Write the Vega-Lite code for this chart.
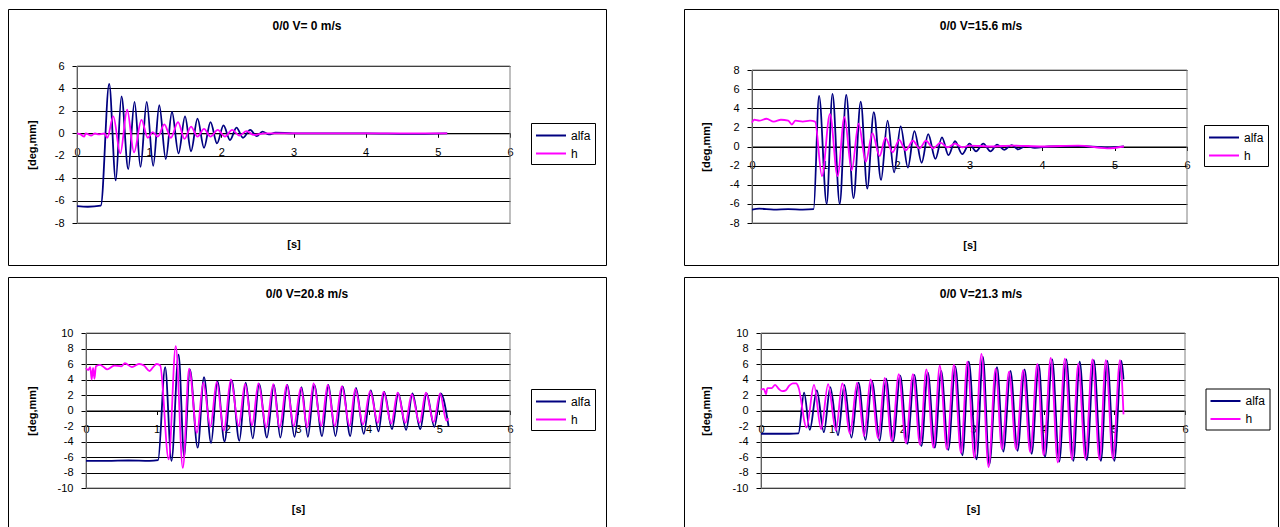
{
"$schema": "https://vega.github.io/schema/vega-lite/v6.json",
"padding": {"left": 7, "top": 8, "right": 0, "bottom": 0},
"bounds": "flush",
"columns": 2,
"spacing": {"row": 12, "column": 78},
"resolve": {"scale": {"color": "independent"}, "legend": {"color": "independent"}},
"concat": [
{"width": 598, "height": 256, "title": "0/0 V= 0 m/s",
 "layer": [
  {"data": {"values": [{}]}, "mark": {"type": "rect", "fill": "transparent", "stroke": "#808080", "strokeWidth": 1},
   "encoding": {"x": {"datum": 0, "type": "quantitative"}, "x2": {"datum": 6}, "y": {"datum": -8, "type": "quantitative"}, "y2": {"datum": 6}}},
  {"data": {"values": [
{"s":"alfa","t":0,"v":-6.5},{"s":"alfa","t":0.15,"v":-6.55},{"s":"alfa","t":0.33,"v":-6.45},{"s":"alfa","t":0.446,"v":4.4},{"s":"alfa","t":0.537,"v":-4.2},{"s":"alfa","t":0.616,"v":3.3},{"s":"alfa","t":0.71,"v":-3.2},{"s":"alfa","t":0.797,"v":2.8},{"s":"alfa","t":0.88,"v":-3.0},{"s":"alfa","t":0.966,"v":2.8},{"s":"alfa","t":1.056,"v":-2.9},{"s":"alfa","t":1.14,"v":2.5},{"s":"alfa","t":1.23,"v":-2.3},{"s":"alfa","t":1.316,"v":1.9},{"s":"alfa","t":1.407,"v":-1.8},{"s":"alfa","t":1.497,"v":1.5},{"s":"alfa","t":1.58,"v":-1.6},{"s":"alfa","t":1.67,"v":1.3},{"s":"alfa","t":1.76,"v":-1.3},{"s":"alfa","t":1.85,"v":1.0},{"s":"alfa","t":1.94,"v":-0.9},{"s":"alfa","t":2.03,"v":0.7},{"s":"alfa","t":2.12,"v":-0.6},{"s":"alfa","t":2.21,"v":0.5},{"s":"alfa","t":2.3,"v":-0.4},{"s":"alfa","t":2.4,"v":0.3},{"s":"alfa","t":2.49,"v":-0.25},{"s":"alfa","t":2.57,"v":0.15},{"s":"alfa","t":2.66,"v":-0.1},{"s":"alfa","t":2.75,"v":0.05},{"s":"alfa","t":3.0,"v":0},{"s":"alfa","t":4.0,"v":0},{"s":"alfa","t":4.6,"v":-0.05},{"s":"alfa","t":5.13,"v":0},
{"s":"h","t":0,"v":0},{"s":"h","t":0.05,"v":-0.1},{"s":"h","t":0.1,"v":-0.3},{"s":"h","t":0.12,"v":0},{"s":"h","t":0.2,"v":-0.2},{"s":"h","t":0.25,"v":0},{"s":"h","t":0.3,"v":-0.1},{"s":"h","t":0.38,"v":0},{"s":"h","t":0.42,"v":-0.4},{"s":"h","t":0.503,"v":1.5},{"s":"h","t":0.6,"v":-1.8},{"s":"h","t":0.695,"v":2.1},{"s":"h","t":0.79,"v":-1.7},{"s":"h","t":0.893,"v":1.2},{"s":"h","t":0.98,"v":-0.4},{"s":"h","t":1.05,"v":0.1},{"s":"h","t":1.12,"v":-0.3},{"s":"h","t":1.21,"v":0.8},{"s":"h","t":1.3,"v":-0.4},{"s":"h","t":1.4,"v":1.0},{"s":"h","t":1.49,"v":-0.5},{"s":"h","t":1.58,"v":0.6},{"s":"h","t":1.67,"v":-0.3},{"s":"h","t":1.76,"v":0.4},{"s":"h","t":1.85,"v":-0.3},{"s":"h","t":1.95,"v":0.3},{"s":"h","t":2.05,"v":-0.3},{"s":"h","t":2.15,"v":0.3},{"s":"h","t":2.25,"v":-0.2},{"s":"h","t":2.35,"v":0.2},{"s":"h","t":2.45,"v":-0.15},{"s":"h","t":2.6,"v":0},{"s":"h","t":3.0,"v":0},{"s":"h","t":4.0,"v":0},{"s":"h","t":5.13,"v":0}
  ]},
   "mark": {"type": "line", "interpolate": "monotone", "strokeWidth": 1.8},
   "encoding": {
    "x": {"field": "t", "type": "quantitative", "scale": {"domain": [0, 6], "range": [69, 502], "nice": false, "zero": false},
          "axis": {"title": "[s]", "values": [0,1,2,3,4,5,6], "offset": -131.71, "titleY": 111.7}},
    "y": {"field": "v", "type": "quantitative", "scale": {"domain": [-8, 6], "range": [214, 57], "nice": false, "zero": false},
          "axis": {"title": "[deg,mm]", "values": [-8,-6,-4,-2,0,2,4,6], "offset": -69, "titleX": -45, "titleY": 135.5}},
    "color": {"field": "s", "type": "nominal", "scale": {"domain": ["alfa", "h"], "range": ["#000080", "#FF00FF"]},
          "legend": {"title": null, "legendX": 523, "legendY": 114}}
   }}
 ]},
{"width": 594, "height": 256, "title": "0/0 V=15.6 m/s",
 "layer": [
  {"data": {"values": [{}]}, "mark": {"type": "rect", "fill": "transparent", "stroke": "#808080", "strokeWidth": 1},
   "encoding": {"x": {"datum": 0, "type": "quantitative"}, "x2": {"datum": 6}, "y": {"datum": -8, "type": "quantitative"}, "y2": {"datum": 8}}},
  {"data": {"values": [
{"s":"alfa","t":0,"v":-6.6},{"s":"alfa","t":0.1,"v":-6.5},{"s":"alfa","t":0.3,"v":-6.6},{"s":"alfa","t":0.5,"v":-6.55},{"s":"alfa","t":0.7,"v":-6.6},{"s":"alfa","t":0.85,"v":-6.55},{"s":"alfa","t":0.925,"v":5.3},{"s":"alfa","t":1.03,"v":-6.0},{"s":"alfa","t":1.11,"v":5.5},{"s":"alfa","t":1.21,"v":-6.0},{"s":"alfa","t":1.3,"v":5.4},{"s":"alfa","t":1.4,"v":-5.4},{"s":"alfa","t":1.5,"v":4.7},{"s":"alfa","t":1.59,"v":-4.4},{"s":"alfa","t":1.68,"v":3.6},{"s":"alfa","t":1.78,"v":-3.5},{"s":"alfa","t":1.87,"v":2.7},{"s":"alfa","t":1.96,"v":-2.7},{"s":"alfa","t":2.05,"v":2.1},{"s":"alfa","t":2.15,"v":-2.2},{"s":"alfa","t":2.24,"v":1.6},{"s":"alfa","t":2.34,"v":-1.7},{"s":"alfa","t":2.43,"v":1.3},{"s":"alfa","t":2.53,"v":-1.3},{"s":"alfa","t":2.62,"v":0.95},{"s":"alfa","t":2.71,"v":-0.9},{"s":"alfa","t":2.8,"v":0.55},{"s":"alfa","t":2.9,"v":-0.8},{"s":"alfa","t":3.0,"v":0.3},{"s":"alfa","t":3.09,"v":-0.5},{"s":"alfa","t":3.19,"v":0.3},{"s":"alfa","t":3.29,"v":-0.5},{"s":"alfa","t":3.38,"v":0.2},{"s":"alfa","t":3.48,"v":-0.35},{"s":"alfa","t":3.58,"v":0.15},{"s":"alfa","t":3.67,"v":-0.3},{"s":"alfa","t":3.77,"v":0.05},{"s":"alfa","t":3.9,"v":-0.15},{"s":"alfa","t":4.1,"v":0},{"s":"alfa","t":4.5,"v":0.05},{"s":"alfa","t":4.9,"v":-0.1},{"s":"alfa","t":5.13,"v":0},
{"s":"h","t":0,"v":2.5},{"s":"h","t":0.03,"v":2.8},{"s":"h","t":0.1,"v":2.7},{"s":"h","t":0.2,"v":2.9},{"s":"h","t":0.3,"v":2.6},{"s":"h","t":0.4,"v":2.8},{"s":"h","t":0.5,"v":2.7},{"s":"h","t":0.55,"v":2.3},{"s":"h","t":0.6,"v":2.7},{"s":"h","t":0.7,"v":2.6},{"s":"h","t":0.8,"v":2.7},{"s":"h","t":0.87,"v":2.6},{"s":"h","t":0.965,"v":-3.1},{"s":"h","t":1.075,"v":3.4},{"s":"h","t":1.18,"v":-3.1},{"s":"h","t":1.275,"v":3.1},{"s":"h","t":1.375,"v":-2.5},{"s":"h","t":1.47,"v":2.4},{"s":"h","t":1.57,"v":-1.6},{"s":"h","t":1.66,"v":1.4},{"s":"h","t":1.76,"v":-1.0},{"s":"h","t":1.84,"v":0.9},{"s":"h","t":1.94,"v":-0.6},{"s":"h","t":2.03,"v":0.7},{"s":"h","t":2.12,"v":-0.4},{"s":"h","t":2.22,"v":0.6},{"s":"h","t":2.31,"v":-0.2},{"s":"h","t":2.4,"v":0.6},{"s":"h","t":2.5,"v":-0.2},{"s":"h","t":2.6,"v":0.4},{"s":"h","t":2.7,"v":-0.1},{"s":"h","t":2.8,"v":0.3},{"s":"h","t":2.9,"v":-0.1},{"s":"h","t":3.0,"v":0.1},{"s":"h","t":3.3,"v":0},{"s":"h","t":3.6,"v":0.1},{"s":"h","t":4.0,"v":0},{"s":"h","t":4.5,"v":0.1},{"s":"h","t":4.9,"v":-0.2},{"s":"h","t":5.13,"v":0}
  ]},
   "mark": {"type": "line", "interpolate": "monotone", "strokeWidth": 1.8},
   "encoding": {
    "x": {"field": "t", "type": "quantitative", "scale": {"domain": [0, 6], "range": [68, 503], "nice": false, "zero": false},
          "axis": {"title": "[s]", "values": [0,1,2,3,4,5,6], "offset": -118.5, "titleY": 98.5}},
    "y": {"field": "v", "type": "quantitative", "scale": {"domain": [-8, 8], "range": [214, 61], "nice": false, "zero": false},
          "axis": {"title": "[deg,mm]", "values": [-8,-6,-4,-2,0,2,4,6,8], "offset": -68, "titleX": -45.5, "titleY": 137.5}},
    "color": {"field": "s", "type": "nominal", "scale": {"domain": ["alfa", "h"], "range": ["#000080", "#FF00FF"]},
          "legend": {"title": null, "legendX": 520, "legendY": 116}}
   }}
 ]},
{"width": 598, "height": 251, "title": "0/0 V=20.8 m/s",
 "layer": [
  {"data": {"values": [{}]}, "mark": {"type": "rect", "fill": "transparent", "stroke": "#808080", "strokeWidth": 1},
   "encoding": {"x": {"datum": 0, "type": "quantitative"}, "x2": {"datum": 6}, "y": {"datum": -10, "type": "quantitative"}, "y2": {"datum": 10}}},
  {"data": {"values": [
{"s":"alfa","t":0,"v":-6.5},{"s":"alfa","t":0.3,"v":-6.5},{"s":"alfa","t":0.6,"v":-6.45},{"s":"alfa","t":0.9,"v":-6.5},{"s":"alfa","t":1.02,"v":-6.4},{"s":"alfa","t":1.12,"v":5.6},{"s":"alfa","t":1.21,"v":-6.5},{"s":"alfa","t":1.31,"v":7.2},{"s":"alfa","t":1.39,"v":-6.0},{"s":"alfa","t":1.47,"v":5.3},{"s":"alfa","t":1.58,"v":-4.8},{"s":"alfa","t":1.67,"v":4.3},{"s":"alfa","t":1.77,"v":-4.2},{"s":"alfa","t":1.86,"v":3.8},{"s":"alfa","t":1.96,"v":-4.0},{"s":"alfa","t":2.06,"v":3.9},{"s":"alfa","t":2.17,"v":-3.9},{"s":"alfa","t":2.26,"v":3.6},{"s":"alfa","t":2.36,"v":-3.6},{"s":"alfa","t":2.45,"v":3.4},{"s":"alfa","t":2.56,"v":-3.5},{"s":"alfa","t":2.66,"v":3.3},{"s":"alfa","t":2.75,"v":-3.5},{"s":"alfa","t":2.85,"v":3.3},{"s":"alfa","t":2.95,"v":-3.4},{"s":"alfa","t":3.05,"v":3.0},{"s":"alfa","t":3.14,"v":-3.4},{"s":"alfa","t":3.23,"v":3.3},{"s":"alfa","t":3.34,"v":-3.3},{"s":"alfa","t":3.43,"v":3.3},{"s":"alfa","t":3.53,"v":-3.3},{"s":"alfa","t":3.63,"v":3.1},{"s":"alfa","t":3.74,"v":-3.3},{"s":"alfa","t":3.82,"v":2.9},{"s":"alfa","t":3.93,"v":-3.0},{"s":"alfa","t":4.03,"v":2.6},{"s":"alfa","t":4.14,"v":-2.7},{"s":"alfa","t":4.22,"v":2.4},{"s":"alfa","t":4.33,"v":-2.4},{"s":"alfa","t":4.42,"v":2.2},{"s":"alfa","t":4.53,"v":-2.5},{"s":"alfa","t":4.62,"v":2.2},{"s":"alfa","t":4.73,"v":-2.4},{"s":"alfa","t":4.82,"v":2.2},{"s":"alfa","t":4.93,"v":-2.1},{"s":"alfa","t":5.02,"v":2.2},{"s":"alfa","t":5.13,"v":-2.0},
{"s":"h","t":0,"v":5.5},{"s":"h","t":0.03,"v":5.2},{"s":"h","t":0.06,"v":5.6},{"s":"h","t":0.08,"v":4.0},{"s":"h","t":0.1,"v":5.5},{"s":"h","t":0.12,"v":4.1},{"s":"h","t":0.14,"v":5.7},{"s":"h","t":0.2,"v":5.9},{"s":"h","t":0.25,"v":5.6},{"s":"h","t":0.3,"v":5.3},{"s":"h","t":0.4,"v":5.8},{"s":"h","t":0.5,"v":5.7},{"s":"h","t":0.55,"v":6.1},{"s":"h","t":0.65,"v":5.6},{"s":"h","t":0.75,"v":6.0},{"s":"h","t":0.82,"v":5.8},{"s":"h","t":0.9,"v":5.1},{"s":"h","t":0.95,"v":5.6},{"s":"h","t":1.0,"v":6.0},{"s":"h","t":1.05,"v":5.8},{"s":"h","t":1.17,"v":-6.3},{"s":"h","t":1.27,"v":8.3},{"s":"h","t":1.37,"v":-7.4},{"s":"h","t":1.46,"v":5.4},{"s":"h","t":1.57,"v":-2.9},{"s":"h","t":1.66,"v":3.6},{"s":"h","t":1.76,"v":-2.1},{"s":"h","t":1.85,"v":3.7},{"s":"h","t":1.95,"v":-2.6},{"s":"h","t":2.05,"v":4.0},{"s":"h","t":2.16,"v":-2.0},{"s":"h","t":2.25,"v":3.4},{"s":"h","t":2.35,"v":-1.9},{"s":"h","t":2.44,"v":3.5},{"s":"h","t":2.55,"v":-2.2},{"s":"h","t":2.65,"v":3.4},{"s":"h","t":2.74,"v":-2.2},{"s":"h","t":2.84,"v":3.3},{"s":"h","t":2.94,"v":-2.0},{"s":"h","t":3.04,"v":2.9},{"s":"h","t":3.13,"v":-2.2},{"s":"h","t":3.22,"v":3.5},{"s":"h","t":3.33,"v":-2.0},{"s":"h","t":3.42,"v":3.3},{"s":"h","t":3.52,"v":-2.0},{"s":"h","t":3.62,"v":3.1},{"s":"h","t":3.73,"v":-2.0},{"s":"h","t":3.81,"v":2.8},{"s":"h","t":3.92,"v":-1.8},{"s":"h","t":4.02,"v":2.5},{"s":"h","t":4.13,"v":-1.6},{"s":"h","t":4.21,"v":2.4},{"s":"h","t":4.32,"v":-1.7},{"s":"h","t":4.41,"v":2.3},{"s":"h","t":4.52,"v":-1.6},{"s":"h","t":4.61,"v":2.1},{"s":"h","t":4.72,"v":-1.6},{"s":"h","t":4.81,"v":2.3},{"s":"h","t":4.92,"v":-1.5},{"s":"h","t":5.01,"v":2.2},{"s":"h","t":5.1,"v":-1.3},{"s":"h","t":5.13,"v":-1.0}
  ]},
   "mark": {"type": "line", "interpolate": "monotone", "strokeWidth": 1.8},
   "encoding": {
    "x": {"field": "t", "type": "quantitative", "scale": {"domain": [0, 6], "range": [78, 502], "nice": false, "zero": false},
          "axis": {"title": "[s]", "values": [0,1,2,3,4,5,6], "offset": -117.5, "titleY": 99}},
    "y": {"field": "v", "type": "quantitative", "scale": {"domain": [-10, 10], "range": [211, 56], "nice": false, "zero": false},
          "axis": {"title": "[deg,mm]", "values": [-10,-8,-6,-4,-2,0,2,4,6,8,10], "offset": -78, "titleX": -54, "titleY": 133.5}},
    "color": {"field": "s", "type": "nominal", "scale": {"domain": ["alfa", "h"], "range": ["#000080", "#FF00FF"]},
          "legend": {"title": null, "legendX": 523, "legendY": 112}}
   }}
 ]},
{"width": 594, "height": 251, "title": "0/0 V=21.3 m/s",
 "layer": [
  {"data": {"values": [{}]}, "mark": {"type": "rect", "fill": "transparent", "stroke": "#808080", "strokeWidth": 1},
   "encoding": {"x": {"datum": 0, "type": "quantitative"}, "x2": {"datum": 6}, "y": {"datum": -10, "type": "quantitative"}, "y2": {"datum": 10}}},
  {"data": {"values": [
{"s":"alfa","t":0,"v":-3.0},{"s":"alfa","t":0.2,"v":-3.0},{"s":"alfa","t":0.4,"v":-3.0},{"s":"alfa","t":0.53,"v":-2.95},{"s":"alfa","t":0.61,"v":2.3},{"s":"alfa","t":0.69,"v":-2.5},{"s":"alfa","t":0.79,"v":2.6},{"s":"alfa","t":0.89,"v":-2.8},{"s":"alfa","t":0.98,"v":3.0},{"s":"alfa","t":1.09,"v":-3.2},{"s":"alfa","t":1.18,"v":3.3},{"s":"alfa","t":1.28,"v":-3.5},{"s":"alfa","t":1.38,"v":3.6},{"s":"alfa","t":1.48,"v":-3.8},{"s":"alfa","t":1.57,"v":3.8},{"s":"alfa","t":1.68,"v":-3.9},{"s":"alfa","t":1.77,"v":4.1},{"s":"alfa","t":1.87,"v":-4.0},{"s":"alfa","t":1.97,"v":4.5},{"s":"alfa","t":2.07,"v":-4.3},{"s":"alfa","t":2.17,"v":4.6},{"s":"alfa","t":2.27,"v":-4.6},{"s":"alfa","t":2.36,"v":4.9},{"s":"alfa","t":2.46,"v":-4.8},{"s":"alfa","t":2.55,"v":5.1},{"s":"alfa","t":2.65,"v":-5.1},{"s":"alfa","t":2.75,"v":5.7},{"s":"alfa","t":2.85,"v":-5.8},{"s":"alfa","t":2.94,"v":6.3},{"s":"alfa","t":3.05,"v":-6.3},{"s":"alfa","t":3.14,"v":6.9},{"s":"alfa","t":3.23,"v":-7.0},{"s":"alfa","t":3.34,"v":5.6},{"s":"alfa","t":3.43,"v":-5.3},{"s":"alfa","t":3.53,"v":5.1},{"s":"alfa","t":3.63,"v":-5.2},{"s":"alfa","t":3.73,"v":5.3},{"s":"alfa","t":3.83,"v":-5.6},{"s":"alfa","t":3.93,"v":5.9},{"s":"alfa","t":4.02,"v":-6.0},{"s":"alfa","t":4.12,"v":6.6},{"s":"alfa","t":4.22,"v":-6.6},{"s":"alfa","t":4.32,"v":6.6},{"s":"alfa","t":4.42,"v":-6.5},{"s":"alfa","t":4.51,"v":6.3},{"s":"alfa","t":4.61,"v":-6.4},{"s":"alfa","t":4.71,"v":6.5},{"s":"alfa","t":4.81,"v":-6.5},{"s":"alfa","t":4.9,"v":6.4},{"s":"alfa","t":5.0,"v":-6.5},{"s":"alfa","t":5.1,"v":6.4},{"s":"alfa","t":5.13,"v":4.0},
{"s":"h","t":0,"v":2.7},{"s":"h","t":0.04,"v":2.8},{"s":"h","t":0.07,"v":2.1},{"s":"h","t":0.09,"v":2.9},{"s":"h","t":0.15,"v":2.9},{"s":"h","t":0.2,"v":3.3},{"s":"h","t":0.25,"v":2.8},{"s":"h","t":0.3,"v":2.5},{"s":"h","t":0.35,"v":2.6},{"s":"h","t":0.4,"v":3.2},{"s":"h","t":0.45,"v":3.5},{"s":"h","t":0.5,"v":3.5},{"s":"h","t":0.53,"v":3.0},{"s":"h","t":0.645,"v":-2.2},{"s":"h","t":0.75,"v":3.3},{"s":"h","t":0.85,"v":-2.4},{"s":"h","t":0.95,"v":3.4},{"s":"h","t":1.06,"v":-2.6},{"s":"h","t":1.15,"v":3.5},{"s":"h","t":1.26,"v":-3.0},{"s":"h","t":1.36,"v":3.6},{"s":"h","t":1.46,"v":-3.3},{"s":"h","t":1.55,"v":4.0},{"s":"h","t":1.66,"v":-3.6},{"s":"h","t":1.75,"v":4.2},{"s":"h","t":1.85,"v":-3.9},{"s":"h","t":1.95,"v":4.7},{"s":"h","t":2.05,"v":-4.2},{"s":"h","t":2.15,"v":4.7},{"s":"h","t":2.25,"v":-4.4},{"s":"h","t":2.34,"v":5.3},{"s":"h","t":2.44,"v":-4.8},{"s":"h","t":2.53,"v":5.8},{"s":"h","t":2.63,"v":-5.0},{"s":"h","t":2.73,"v":5.9},{"s":"h","t":2.83,"v":-5.5},{"s":"h","t":2.92,"v":6.3},{"s":"h","t":3.02,"v":-6.1},{"s":"h","t":3.12,"v":7.3},{"s":"h","t":3.22,"v":-7.3},{"s":"h","t":3.32,"v":5.4},{"s":"h","t":3.41,"v":-5.0},{"s":"h","t":3.51,"v":5.0},{"s":"h","t":3.61,"v":-5.0},{"s":"h","t":3.71,"v":5.2},{"s":"h","t":3.81,"v":-5.4},{"s":"h","t":3.91,"v":6.0},{"s":"h","t":4.0,"v":-5.8},{"s":"h","t":4.1,"v":6.8},{"s":"h","t":4.2,"v":-6.7},{"s":"h","t":4.3,"v":6.7},{"s":"h","t":4.4,"v":-6.3},{"s":"h","t":4.49,"v":6.0},{"s":"h","t":4.59,"v":-6.2},{"s":"h","t":4.69,"v":6.6},{"s":"h","t":4.79,"v":-6.3},{"s":"h","t":4.88,"v":6.5},{"s":"h","t":4.98,"v":-6.2},{"s":"h","t":5.08,"v":6.5},{"s":"h","t":5.13,"v":-0.5}
  ]},
   "mark": {"type": "line", "interpolate": "monotone", "strokeWidth": 1.8},
   "encoding": {
    "x": {"field": "t", "type": "quantitative", "scale": {"domain": [0, 6], "range": [77, 501], "nice": false, "zero": false},
          "axis": {"title": "[s]", "values": [0,1,2,3,4,5,6], "offset": -117.5, "titleY": 99}},
    "y": {"field": "v", "type": "quantitative", "scale": {"domain": [-10, 10], "range": [211, 56], "nice": false, "zero": false},
          "axis": {"title": "[deg,mm]", "values": [-10,-8,-6,-4,-2,0,2,4,6,8,10], "offset": -77, "titleX": -55, "titleY": 133.5}},
    "color": {"field": "s", "type": "nominal", "scale": {"domain": ["alfa", "h"], "range": ["#000080", "#FF00FF"]},
          "legend": {"title": null, "legendX": 521.5, "legendY": 111.5}}
   }}
 ]}
],
"config": {
 "font": "Liberation Sans",
 "view": {"stroke": "black", "strokeWidth": 1},
 "title": {"font": "Liberation Sans", "fontSize": 12, "fontWeight": "bold", "color": "black", "anchor": "middle", "frame": "group", "offset": -24, "baseline": "alphabetic"},
 "axis": {"labelFont": "Liberation Sans", "labelFontSize": 11, "labelColor": "black", "titleFont": "Liberation Sans", "titleFontSize": 11, "titleFontWeight": "bold", "titleColor": "black", "tickColor": "black", "domainColor": "black", "labelFlush": false, "labelOverlap": false, "labelBound": false, "titleBaseline": "middle", "labelExpr": "'' + datum.value", "tickCount": 30},
 "axisX": {"grid": false, "tickSize": 4, "labelPadding": 9},
 "axisY": {"grid": true, "gridColor": "black", "gridOpacity": 1, "tickSize": 5, "labelPadding": 8, "domainColor": "#404040"},
 "legend": {"orient": "none", "strokeColor": "black", "fillColor": "white", "padding": 4, "symbolType": "M-1,0H3", "symbolSize": 225, "symbolStrokeWidth": 2, "labelFont": "Liberation Sans", "labelFontSize": 12, "labelColor": "black", "labelOffset": 19, "rowPadding": 3}
}
}
